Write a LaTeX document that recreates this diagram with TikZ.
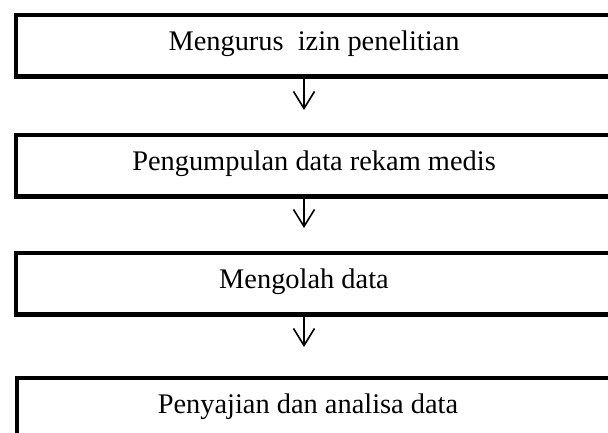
\documentclass[tikz,border=0pt]{standalone}
\usepackage{fontspec}
\setmainfont{Liberation Serif}
\usetikzlibrary{arrows.meta}
\begin{document}
\begin{tikzpicture}[x=1bp,y=-1bp,
  stepbox/.style={draw, line width=4.5bp, minimum width=640bp, minimum height=61.5bp,
    inner sep=0pt, anchor=north west},
  steptext/.style={anchor=base, inner sep=0pt, font=\fontsize{28.5}{32}\selectfont},
  flow/.style={line width=1.6bp,
    -{Straight Barb[length=17bp,width=21bp,line width=1.6bp]}}]
\useasboundingbox (0,0) rectangle (608,432);
\clip (0,0) rectangle (608,432);
\fill[white] (0,0) rectangle (608,432);

% boxes (they run past the right edge)
\node[stepbox] (b1) at (13.5,12.5) {};
\node[stepbox] (b2) at (13.5,132.5) {};
\node[stepbox] (b3) at (13.5,250.5) {};
\node[stepbox] (b4) at (14.5,375.5) {};

% box texts
\node[steptext] (t1) at (314,50.5) {Mengurus~~izin penelitian};
\node[steptext] (t2) at (314,170.5) {Pengumpulan data rekam medis};
\node[steptext] (t3) at (304,288.5) {Mengolah data};
\node[steptext] (t4) at (308,413.5) {Penyajian dan analisa data};

% arrow ends
\coordinate (a1) at (304,110);
\coordinate (a2) at (304,228);
\coordinate (a3) at (304,347);

\draw[flow] (a1 |- b1.south) -- (a1);
\draw[flow] (a2 |- b2.south) -- (a2);
\draw[flow] (a3 |- b3.south) -- (a3);
\end{tikzpicture}
\end{document}
